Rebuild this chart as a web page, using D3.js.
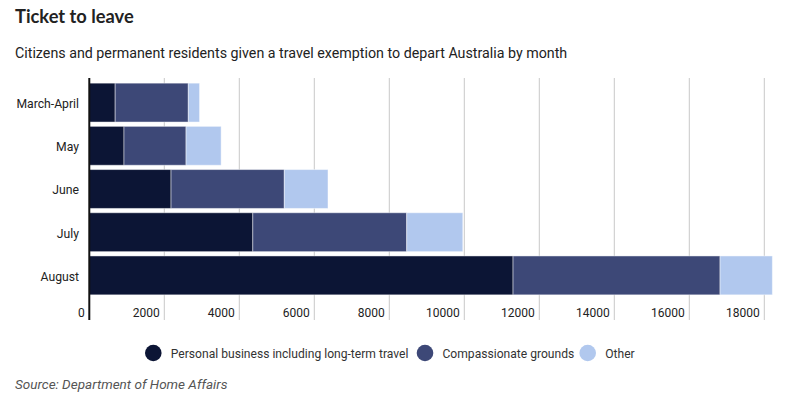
<!DOCTYPE html>
<html><head><meta charset="utf-8">
<script src="https://cdn.jsdelivr.net/npm/d3@7"></script>
<style>
body{margin:0;background:#fff;}
svg{display:block;font-family:"Roboto","Noto Sans",sans-serif;}
</style></head>
<body>
<svg id="c" width="800" height="419"></svg>
<script>
const categories = ["March-April","May","June","July","August"];
const personal = [690, 925, 2180, 4360, 11300];
const compassionate = [1950, 1655, 3020, 4105, 5520];
const other = [300, 935, 1165, 1495, 1395];
const seriesNames = ["Personal business including long-term travel","Compassionate grounds","Other"];
const colors = ["#0c1535","#3d4877","#b1c8ee"];
const ticks = [0,2000,4000,6000,8000,10000,12000,14000,16000,18000];

const svg = d3.select("#c");
const rows = categories.map((c,i)=>({cat:c, p:personal[i], c:compassionate[i], o:other[i]}));
const stack = d3.stack().keys(["p","c","o"])(rows);

const x = d3.scaleLinear().domain([0,18000]).range([89.3,764.3]);
const y = d3.scaleBand().domain(categories).range([81,297]).paddingInner(0.1).paddingOuter(0.05);

svg.append("text").attr("x",15).attr("y",23).attr("font-family","Lato, sans-serif").attr("font-size",18.3).attr("font-weight",700).attr("fill","#222").text("Ticket to leave");
svg.append("text").attr("x",15).attr("y",58).attr("font-size",14.25).attr("fill","#222").text("Citizens and permanent residents given a travel exemption to depart Australia by month");

svg.append("g").selectAll("line").data(ticks.slice(1)).join("line")
  .attr("x1",d=>x(d)).attr("x2",d=>x(d)).attr("y1",78).attr("y2",320)
  .attr("stroke","#c8c8c8").attr("stroke-width",1);

svg.append("g").selectAll("g").data(stack).join("g")
  .attr("fill",(d,i)=>colors[i])
  .selectAll("rect").data(d=>d).join("rect")
  .attr("x",d=>x(d[0])).attr("width",d=>x(d[1])-x(d[0]))
  .attr("y",d=>y(d.data.cat)).attr("height",y.bandwidth())
  .attr("stroke","rgba(255,255,255,0.45)").attr("stroke-width",1);

const xAxis = d3.axisBottom(x).tickValues(ticks).tickSize(0).tickFormat(d3.format("d"));
const gx = svg.append("g").attr("transform","translate(0,300)").call(xAxis);
gx.select(".domain").remove();
gx.selectAll("text").attr("text-anchor","end").attr("dx",-5).attr("dy",0).attr("y",16.5)
  .attr("font-family","Roboto, sans-serif").attr("font-size",12).attr("fill","#222");

const yAxis = d3.axisLeft(y).tickSize(0).tickPadding(10);
const gy = svg.append("g").attr("transform","translate(89,1.5)").call(yAxis);
gy.select(".domain").remove();
gy.selectAll("text").attr("font-family","Roboto, sans-serif").attr("font-size",12.2).attr("fill","#222");

svg.append("line").attr("x1",x(0)).attr("x2",x(0)).attr("y1",78).attr("y2",320).attr("stroke","#111").attr("stroke-width",2);

const legX = [153.3, 425, 587.7];
const lg = svg.append("g");
seriesNames.forEach((n,i)=>{
  lg.append("circle").attr("cx",legX[i]).attr("cy",353).attr("r",8.3).attr("fill",colors[i]);
  lg.append("text").attr("x",legX[i]+17.5).attr("y",357.5).attr("font-size",12.1).attr("fill","#333").text(n);
});

svg.append("text").attr("x",15).attr("y",389).attr("font-size",13.5).attr("font-style","italic").attr("fill","#555").text("Source: Department of Home Affairs");
</script>
</body></html>
